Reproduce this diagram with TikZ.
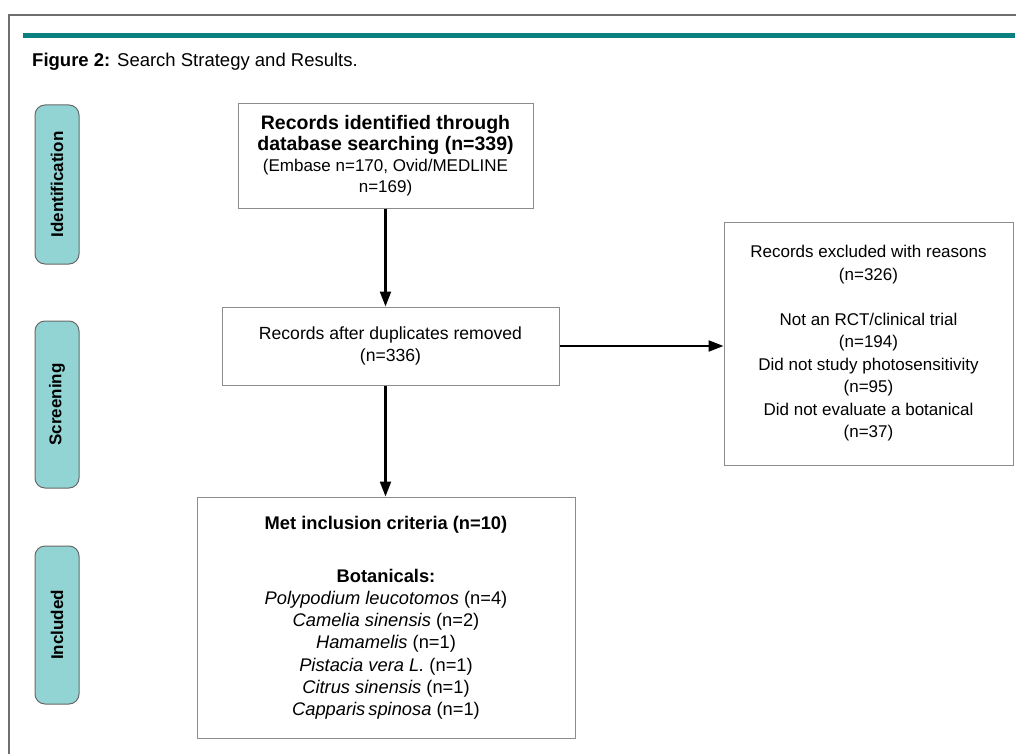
\documentclass[tikz,border=0pt]{standalone}
\usepackage{fontspec}
\setmainfont{Liberation Sans}
\usetikzlibrary{arrows.meta}
\definecolor{tealbar}{RGB}{10,128,128}
\definecolor{phasefill}{RGB}{146,212,212}
\definecolor{boxgray}{RGB}{140,140,140}
\definecolor{phaseline}{RGB}{105,105,105}
\definecolor{framegray}{RGB}{110,110,110}
\begin{document}
\begin{tikzpicture}[x=1pt,y=-1pt,
  box/.style={draw=boxgray,line width=1pt,align=center,inner sep=0pt,font=\fontsize{17}{22}\selectfont},
  phase/.style={draw=phaseline,fill=phasefill,rounded corners=10pt,line width=1pt,inner sep=0pt,font=\bfseries\fontsize{17}{20}\selectfont},
  arr/.style={line width=2.2pt,-{Triangle[length=15pt,width=11pt]}}]
\useasboundingbox (0,0) rectangle (1016,754);
% frame and bar
\draw[framegray,line width=1.5pt] (1016,15) -- (9,15) -- (9,754);
\fill[tealbar] (23,33.5) rectangle (1015,38.5);
\node[anchor=base west,inner sep=0pt,font=\fontsize{18.5}{20}\selectfont] (cap) at (32,67) {\textbf{Figure 2:} Search Strategy and Results.};
% phases
\node[phase,rotate=90,minimum width=159pt,minimum height=44pt] (p1) at (57,184.5) {Identification};
\node[phase,rotate=90,minimum width=167pt,minimum height=44pt] (p2) at (57,404.5) {Screening};
\node[phase,rotate=90,minimum width=158pt,minimum height=44pt] (p3) at (57,625) {Included};
% boxes
\node[box,font=\fontsize{17}{21}\selectfont,minimum width=295pt,minimum height=104pt] (b1) at (385.5,156)
  {{\fontsize{19.5}{21}\selectfont\bfseries Records identified through}\\{\fontsize{19.5}{21}\selectfont\bfseries database searching (n=339)}\\(Embase n=170, Ovid/MEDLINE\\n=169)};
\node[box,font=\fontsize{17.6}{22}\selectfont,minimum width=337pt,minimum height=78pt] (b2) at (390.5,346)
  {Records after duplicates removed\\(n=336)};
\node[box,font=\fontsize{17}{22.5}\selectfont,minimum width=289pt,minimum height=243pt] (b3) at (868.5,343.5)
  {Records excluded with reasons\\(n=326)\\[22.5pt]Not an RCT/clinical trial\\(n=194)\\Did not study photosensitivity\\(n=95)\\Did not evaluate a botanical\\(n=37)};
\node[box,font=\fontsize{18.3}{22.2}\selectfont,minimum width=378pt,minimum height=241pt] (b4) at (386,617.5)
  {\textbf{Met inclusion criteria (n=10)}\\[31pt]\textbf{Botanicals:}\\\textit{Polypodium leucotomos} (n=4)\\\textit{Camelia sinensis} (n=2)\\\textit{Hamamelis} (n=1)\\\textit{Pistacia vera L.} (n=1)\\\textit{Citrus sinensis} (n=1)\\\textit{Capparis}\,\textit{spinosa} (n=1)};
% connectors
\draw[arr] (b1.south) -- (b1.south |- b2.north);
\draw[arr] (b2.east) -- (b3.west |- b2.east);
\draw[arr] (b2.south -| b1.south) -- (b4.north -| b1.south);
\end{tikzpicture}
\end{document}
